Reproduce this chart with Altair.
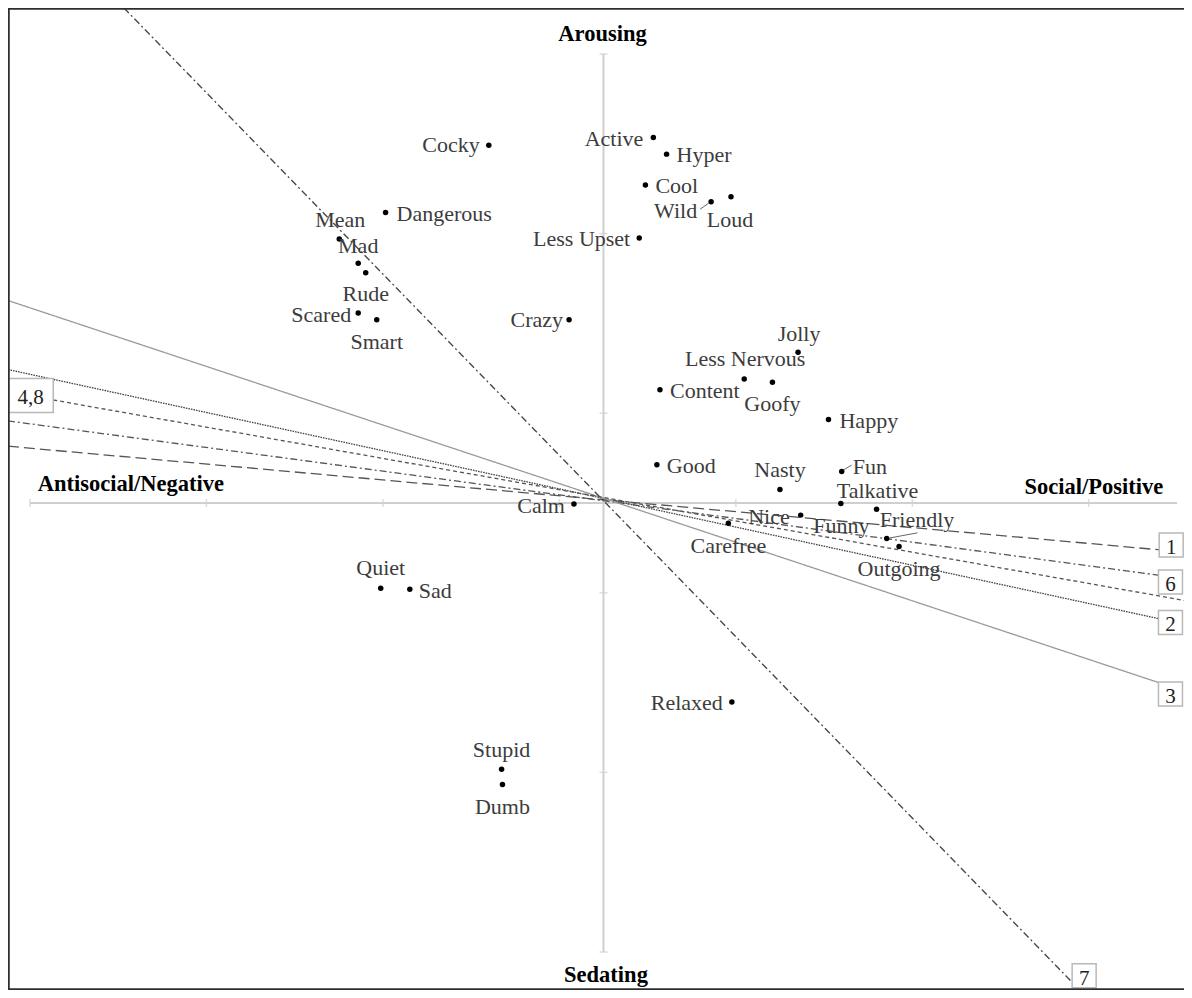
import altair as alt
import pandas as pd

# ---------------- data ----------------
words = ["Cocky", "Active", "Hyper", "Cool", "Wild", "Loud", "Less Upset", "Crazy",
         "Dangerous", "Mean", "Mad", "Rude", "Scared", "Smart", "Jolly", "Less Nervous",
         "Goofy", "Content", "Happy", "Good", "Nasty", "Fun", "Talkative", "Funny",
         "Friendly", "Outgoing", "Nice", "Carefree", "Calm", "Quiet", "Sad", "Relaxed",
         "Stupid", "Dumb"]
social = [-0.260, 0.113, 0.143, 0.095, 0.244, 0.289, 0.081, -0.078,
          -0.494, -0.599, -0.556, -0.539, -0.556, -0.514, 0.441, 0.319,
          0.383, 0.128, 0.510, 0.121, 0.400, 0.540, 0.538, 0.619,
          0.642, 0.670, 0.447, 0.283, -0.067, -0.505, -0.439, 0.291,
          -0.231, -0.229]
arousal = [0.797, 0.814, 0.777, 0.708, 0.671, 0.682, 0.590, 0.408,
           0.647, 0.588, 0.534, 0.513, 0.423, 0.408, 0.336, 0.276,
           0.269, 0.252, 0.186, 0.085, 0.030, 0.070, -0.001, -0.014,
           -0.079, -0.097, -0.027, -0.045, -0.002, -0.190, -0.192, -0.443,
           -0.593, -0.627]

vector_ids = ["1", "6", "2", "3", "7", "4,8"]
vec_x_a = [-1.35, -1.35, -1.35, -1.35, -1.087, -1.2473]
vec_y_a = [0.1265, 0.1829, 0.2973, 0.4510, 1.1024, 0.2294]
vec_x_b = [1.2902, 1.2886, 1.2886, 1.2886, 1.0612, 1.334]
vec_y_b = [-0.1069, -0.1648, -0.2639, -0.4098, -1.0662, -0.2200]
vec_label_end = ["b", "b", "b", "b", "b", "a"]

x_ticks = [-1.3, -0.9, -0.5, -0.1, 0.3, 0.7, 1.1]
y_ticks = [-1.0, -0.6, -0.2, 0.2, 0.6, 1.0]
x_axis_range = [-1.3, 1.3]
y_axis_range = [-1.0, 1.0]

axis_titles = ["Arousing", "Sedating", "Antisocial/Negative", "Social/Positive"]

# ---------------- layout / style ----------------
W, H = 1176, 982
PX_X = 441.15
PX_Y = 449.0
XMIN = -1.34987
XMAX = XMIN + W / PX_X
YMAX = 1.10245
YMIN = YMAX - H / PX_Y

FONT = "Liberation Serif, Times New Roman, Tinos, DejaVu Serif, serif"
LABEL_COLOR = "#3c3c3c"
FS = 22

# label placement: (dx px, dy px, align)
label_pos = {
    "Cocky": (-9, 0, "right"), "Active": (-10, 1, "right"), "Hyper": (10, 1, "left"),
    "Cool": (10, 1, "left"), "Wild": (-14, 9, "right"), "Loud": (-1, 23, "center"),
    "Less Upset": (-9, 1, "right"), "Crazy": (-6, 0, "right"), "Dangerous": (11, 2, "left"),
    "Mean": (1, -19, "center"), "Mad": (0, -17.5, "center"), "Rude": (0, 21.5, "center"),
    "Scared": (-7, 1.5, "right"), "Smart": (0, 22, "center"), "Jolly": (1, -18, "center"),
    "Less Nervous": (1, -20, "center"), "Goofy": (0, 21.5, "center"),
    "Content": (10, 1.5, "left"), "Happy": (11, 2, "left"), "Good": (10, 1, "left"),
    "Nasty": (0, -20, "center"), "Fun": (11, -5, "left"), "Talkative": (-4, -12, "left"),
    "Funny": (-7, 17, "right"), "Friendly": (-7, -18, "left"), "Outgoing": (0, 22, "center"),
    "Nice": (-11, 1.5, "right"), "Carefree": (0, 23, "center"), "Calm": (-9, 2.5, "right"),
    "Quiet": (0, -20, "center"), "Sad": (9, 1.5, "left"), "Relaxed": (-9, 1.5, "right"),
    "Stupid": (0, -19.5, "center"), "Dumb": (0, 22.5, "center"),
}
leaders = {"Wild": ((-11, 7.5), (-2.5, 1.5)),
           "Fun": ((1.5, -1.5), (10, -6.5)),
           "Friendly": ((3, -0.5), (30.6, -5.6))}

vec_dash = {"1": [11, 5], "6": [7, 3, 2, 3], "2": [1.6, 1], "3": [1, 0],
            "7": [7, 3, 2, 3], "4,8": [4, 3]}
vec_color = {"1": "#555555", "6": "#555555", "2": "#444444", "3": "#9a9a9a",
             "7": "#444444", "4,8": "#555555"}
box_offset = {"1": (-1.5, -6), "6": (-1.5, 5), "2": (-1.5, 1), "3": (-1.5, 7),
              "7": (12.5, -6), "4,8": (-22.5, -4.5)}

xs = alt.Scale(domain=[XMIN, XMAX], nice=False, zero=False)
ys = alt.Scale(domain=[YMIN, YMAX], nice=False, zero=False)


def X(f):
    return alt.X(f, type="quantitative", scale=xs, axis=None)


def Y(f):
    return alt.Y(f, type="quantitative", scale=ys, axis=None)


# ---------------- tables ----------------
pts = pd.DataFrame({"word": words, "x": social, "y": arousal})
pts["lx"] = [x + label_pos[w][0] / PX_X for w, x in zip(words, social)]
pts["ly"] = [y - label_pos[w][1] / PX_Y for w, y in zip(words, arousal)]
pts["align"] = [label_pos[w][2] for w in words]

lead_rows = []
for w, (a, b) in leaders.items():
    i = words.index(w)
    lead_rows.append({"x": social[i] + a[0] / PX_X, "y": arousal[i] - a[1] / PX_Y,
                      "x2": social[i] + b[0] / PX_X, "y2": arousal[i] - b[1] / PX_Y})
leads = pd.DataFrame(lead_rows)

vecs = pd.DataFrame({"id": vector_ids, "x": vec_x_a, "y": vec_y_a,
                     "x2": vec_x_b, "y2": vec_y_b})
box_rows = []
for i, vid in enumerate(vector_ids):
    ex, ey = (vec_x_b[i], vec_y_b[i]) if vec_label_end[i] == "b" else (vec_x_a[i], vec_y_a[i])
    ox, oy = box_offset[vid]
    box_rows.append({"id": vid, "bx": ex + ox / PX_X, "by": ey - oy / PX_Y})
boxes = pd.DataFrame(box_rows)

frame = pd.DataFrame({"x": [XMIN, XMIN, XMIN], "y": [YMIN, YMAX, YMIN],
                      "x2": [XMIN, XMAX, XMAX], "y2": [YMAX, YMAX, YMIN]})
axes_df = pd.DataFrame({"x": [x_axis_range[0], 0], "y": [0, y_axis_range[0]],
                        "x2": [x_axis_range[1], 0], "y2": [0, y_axis_range[1]]})
xt = pd.DataFrame({"x": x_ticks, "y": [0] * len(x_ticks)})
yt = pd.DataFrame({"x": [0] * len(y_ticks), "y": y_ticks})

AXC = "#cfcfcf"
axis_lines = alt.Chart(axes_df).mark_rule(color=AXC, strokeWidth=2).encode(
    x=X("x"), y=Y("y"), x2="x2", y2="y2")
xtick = alt.Chart(xt).mark_tick(orient="vertical", size=8, thickness=1.5, color=AXC).encode(
    x=X("x"), y=Y("y"))
ytick = alt.Chart(yt).mark_tick(orient="horizontal", size=8, thickness=1.5, color=AXC).encode(
    x=X("x"), y=Y("y"))

vec_lines = alt.Chart(vecs).mark_rule(strokeWidth=1.3, clip=True).encode(
    x=X("x"), y=Y("y"), x2="x2", y2="y2",
    strokeDash=alt.StrokeDash("id:N", scale=alt.Scale(domain=vector_ids,
                              range=[vec_dash[v] for v in vector_ids]), legend=None),
    color=alt.Color("id:N", scale=alt.Scale(domain=vector_ids,
                    range=[vec_color[v] for v in vector_ids]), legend=None))

single_boxes = alt.Chart(boxes).transform_filter(alt.datum.id != "4,8").mark_point(
    shape="square", size=576, filled=False, fill="white", fillOpacity=1,
    stroke="#b8b8b8", strokeWidth=1.5, opacity=1).encode(x=X("bx"), y=Y("by"))
wide_box = alt.Chart(boxes).transform_filter(alt.datum.id == "4,8").mark_point(
    shape="M-1,-0.76H1V0.76H-1Z", size=2025, filled=False, fill="white", fillOpacity=1,
    stroke="#b8b8b8", strokeWidth=1.5, opacity=1).encode(x=X("bx"), y=Y("by"))
box_text = alt.Chart(boxes).mark_text(font=FONT, fontSize=21, color="#222222",
                                      baseline="middle", dy=3).encode(
    x=X("bx"), y=Y("by"), text="id:N")

dots = alt.Chart(pts).mark_circle(size=30, color="black", opacity=1).encode(
    x=X("x"), y=Y("y"))
lead_lines = alt.Chart(leads).mark_rule(color="#666666", strokeWidth=1).encode(
    x=X("x"), y=Y("y"), x2="x2", y2="y2")

label_layers = []
for al in ["left", "center", "right"]:
    label_layers.append(
        alt.Chart(pts).transform_filter(alt.datum.align == al).mark_text(
            font=FONT, fontSize=FS, color=LABEL_COLOR, align=al, baseline="middle").encode(
            x=X("lx"), y=Y("ly"), text="word:N"))


def title_layer(txt, x, y, align, dx, dy):
    df = pd.DataFrame({"x": [x], "y": [y], "t": [txt]})
    return alt.Chart(df).mark_text(font=FONT, fontSize=22.5, fontWeight="bold", color="black",
                                   align=align, baseline="middle", dx=dx, dy=dy).encode(
        x=X("x"), y=Y("y"), text="t:N")


titles = [
    title_layer(axis_titles[0], 0, y_axis_range[1], "center", -1, -20.5),
    title_layer(axis_titles[1], 0, y_axis_range[0], "center", 2.5, 23),
    title_layer(axis_titles[2], x_axis_range[0], 0, "left", 7.7, -19.5),
    title_layer(axis_titles[3], x_axis_range[1], 0, "right", -13.7, -16),
]

frame_lines = alt.Chart(frame).mark_rule(color="#2e2e2e", strokeWidth=3.5).encode(
    x=X("x"), y=Y("y"), x2="x2", y2="y2")

chart = alt.layer(
    axis_lines, xtick, ytick, vec_lines, lead_lines, dots, *label_layers,
    single_boxes, wide_box, box_text, *titles, frame_lines
).properties(
    width=W, height=H, padding=0,
    autosize=alt.AutoSizeParams(type="none"),
).configure_view(stroke=None).configure(background="white")

chart.save("out.html", embed_options={"renderer": "svg", "actions": False})
